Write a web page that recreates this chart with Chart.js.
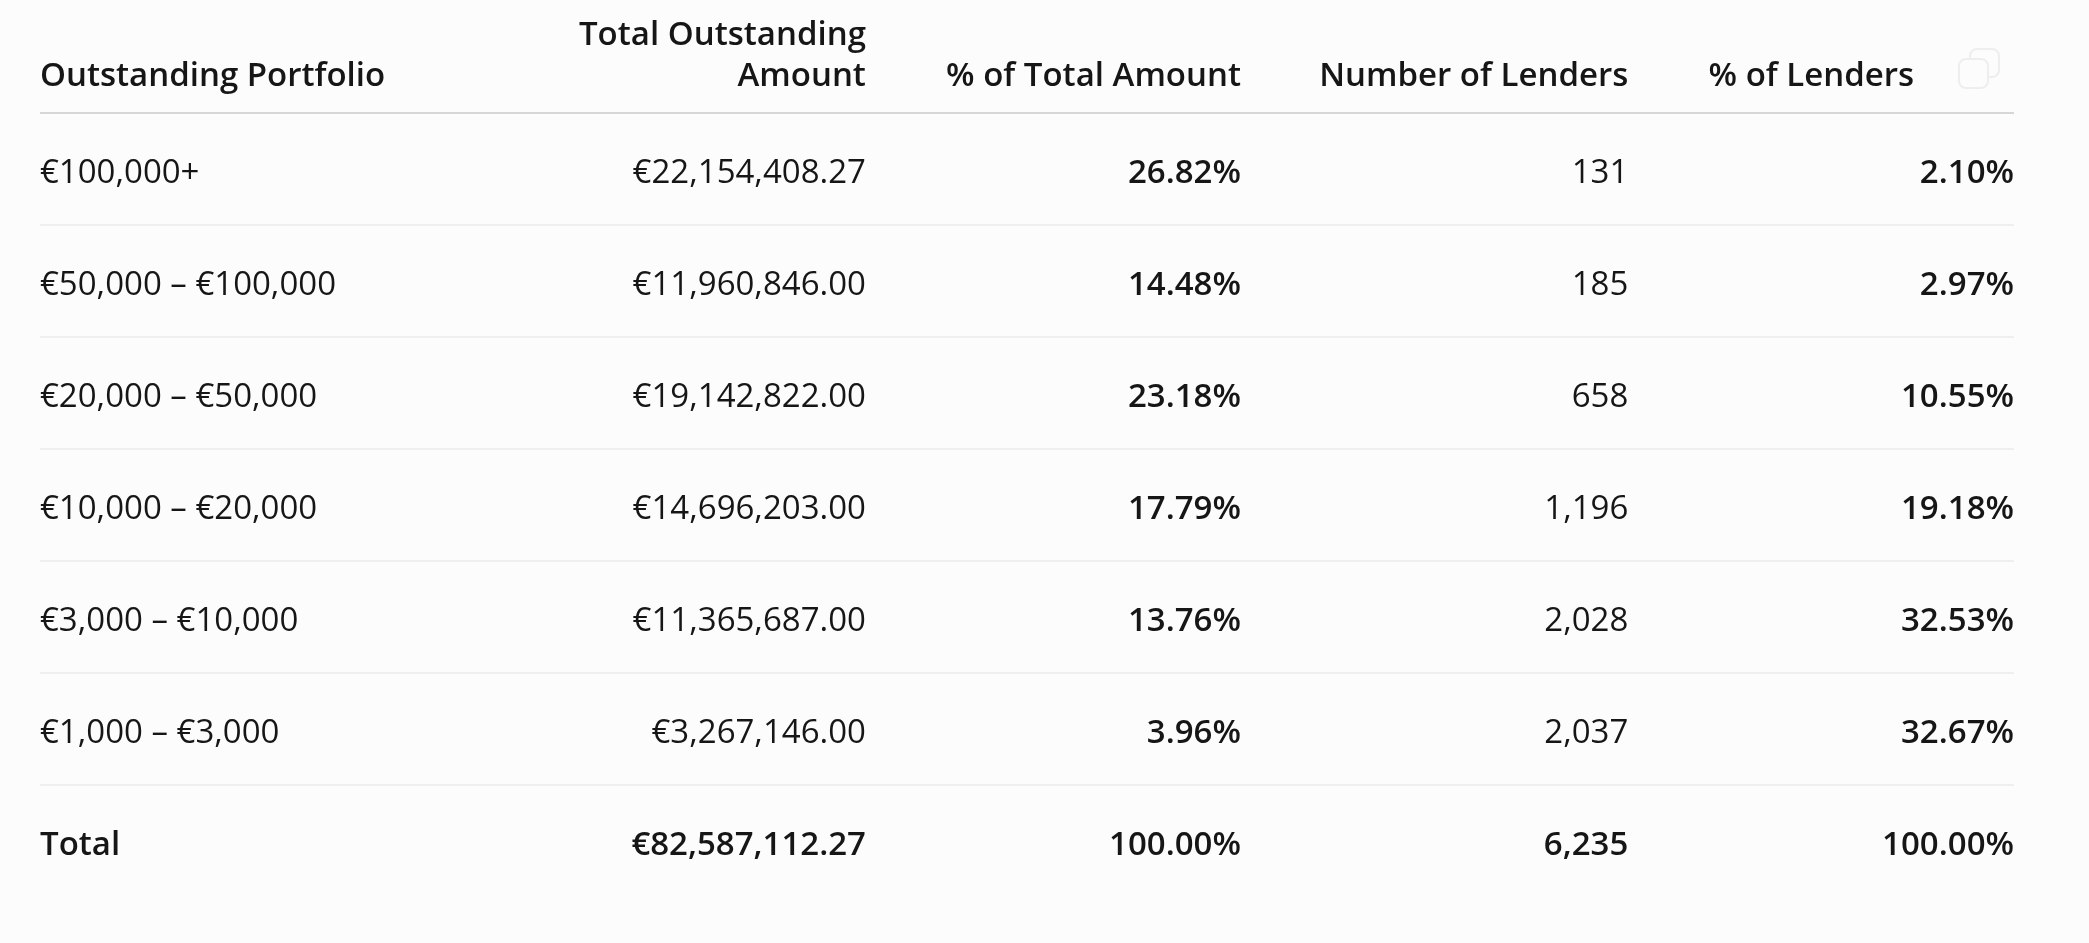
<!DOCTYPE html>
<html lang="en">
<head>
  <meta charset="UTF-8">
  <title>Outstanding Portfolio</title>
  <script src="https://cdn.jsdelivr.net/npm/chart.js"></script>
  <style>
    html, body { margin: 0; padding: 0; background: #fcfcfc; }
    .wrap { width: 2089px; height: 943px; position: relative; }
  </style>
</head>
<body>
  <div class="wrap">
    <canvas id="tabela-portfolio"></canvas>
  </div>

<script>
  // dados da tabela
  const bands = ['€100,000+', '€50,000 – €100,000', '€20,000 – €50,000', '€10,000 – €20,000',
    '€3,000 – €10,000', '€1,000 – €3,000', 'Total'];
  const amounts = [22154408.27, 11960846.00, 19142822.00, 14696203.00, 11365687.00, 3267146.00, 82587112.27];
  const pctAmount = [26.82, 14.48, 23.18, 17.79, 13.76, 3.96, 100.00];
  const lenders = [131, 185, 658, 1196, 2028, 2037, 6235];
  const pctLenders = [2.10, 2.97, 10.55, 19.18, 32.53, 32.67, 100.00];
  const headers = ['Outstanding Portfolio', ['Total Outstanding', 'Amount'], '% of Total Amount',
    'Number of Lenders', '% of Lenders'];

  // posicao (em unidades do eixo x, 0..5) da borda direita de cada coluna numerica
  const colRight = [2.092, 3.042, 4.023, 5];
  const lastHeaderRight = 4.747;

  const FAMILY = '"Open Sans", "Noto Sans", sans-serif';
  const TEXT = '#161616';
  const totalIdx = bands.length - 1;

  const fmtMoney = new Intl.NumberFormat('en-US', { minimumFractionDigits: 2, maximumFractionDigits: 2 });
  const fmtPct = new Intl.NumberFormat('en-US', { minimumFractionDigits: 2, maximumFractionDigits: 2 });
  const fmtInt = new Intl.NumberFormat('en-US');

  const columns = [
    { values: amounts, fmt: v => '€' + fmtMoney.format(v), bold: false },
    { values: pctAmount, fmt: v => fmtPct.format(v) + '%', bold: true },
    { values: lenders, fmt: v => fmtInt.format(v), bold: false },
    { values: pctLenders, fmt: v => fmtPct.format(v) + '%', bold: true }
  ];

  function roundRect(ctx, x, y, w, h, r) {
    ctx.beginPath();
    ctx.moveTo(x + r, y);
    ctx.arcTo(x + w, y, x + w, y + h, r);
    ctx.arcTo(x + w, y + h, x, y + h, r);
    ctx.arcTo(x, y + h, x, y, r);
    ctx.arcTo(x, y, x + w, y, r);
    ctx.closePath();
  }

  const tablePlugin = {
    id: 'tablePlugin',
    afterDraw(chart) {
      const ctx = chart.ctx;
      const x = chart.scales.x;
      const y = chart.scales.y;
      const area = chart.chartArea;
      const headBase = area.top - 27;

      ctx.save();
      ctx.fillStyle = TEXT;
      ctx.textBaseline = 'alphabetic';

      // cabecalho
      ctx.font = '600 33px ' + FAMILY;
      ctx.textAlign = 'left';
      ctx.fillText(headers[0], x.getPixelForValue(0), headBase);
      ctx.textAlign = 'right';
      for (let c = 1; c < headers.length; c++) {
        const right = c === headers.length - 1 ? lastHeaderRight : colRight[c - 1];
        const lines = Array.isArray(headers[c]) ? headers[c] : [headers[c]];
        lines.forEach((line, i) => {
          ctx.fillText(line, x.getPixelForValue(right), headBase - (lines.length - 1 - i) * 41);
        });
      }

      // celulas
      columns.forEach((col, c) => {
        const px = x.getPixelForValue(colRight[c]);
        col.values.forEach((v, r) => {
          const bold = col.bold || r === totalIdx;
          ctx.font = (bold ? '600 ' : '400 ') + '33px ' + FAMILY;
          ctx.fillText(col.fmt(v), px, y.getPixelForValue(r) + 14);
        });
      });

      // icone de copiar
      ctx.strokeStyle = '#eeeeee';
      ctx.lineWidth = 2;
      roundRect(ctx, area.right - 44, area.top - 64, 29, 28, 7);
      ctx.stroke();
      ctx.fillStyle = '#fcfcfc';
      roundRect(ctx, area.right - 55, area.top - 54, 29, 29, 7);
      ctx.fill();
      ctx.stroke();

      ctx.restore();
    }
  };

  const cvs = document.getElementById('tabela-portfolio');

  new Chart(cvs, {
    type: 'bar',
    data: {
      labels: bands,
      datasets: []
    },
    options: {
      indexAxis: 'y',
      responsive: true,
      maintainAspectRatio: false,
      animation: false,
      layout: {
        padding: { left: 40, right: 75, top: 113, bottom: 46 }
      },
      plugins: {
        legend: { display: false },
        tooltip: { enabled: false }
      },
      scales: {
        x: {
          type: 'linear',
          min: 0,
          max: 5,
          display: false
        },
        y: {
          type: 'category',
          position: 'left',
          offset: true,
          border: { display: false },
          grid: {
            offset: true,
            drawTicks: false,
            lineWidth: 2,
            color: (c) => {
              if (c.type !== 'tick') return 'rgba(0,0,0,0)';
              return c.index === 0 ? '#d6d6d6' : '#efefef';
            }
          },
          ticks: {
            mirror: true,
            padding: 0,
            labelOffset: 5,
            color: TEXT,
            font: (c) => ({
              family: FAMILY,
              size: 33,
              weight: c.index === totalIdx ? '600' : '400'
            })
          }
        }
      }
    },
    plugins: [tablePlugin]
  });
</script>
</body>
</html>
